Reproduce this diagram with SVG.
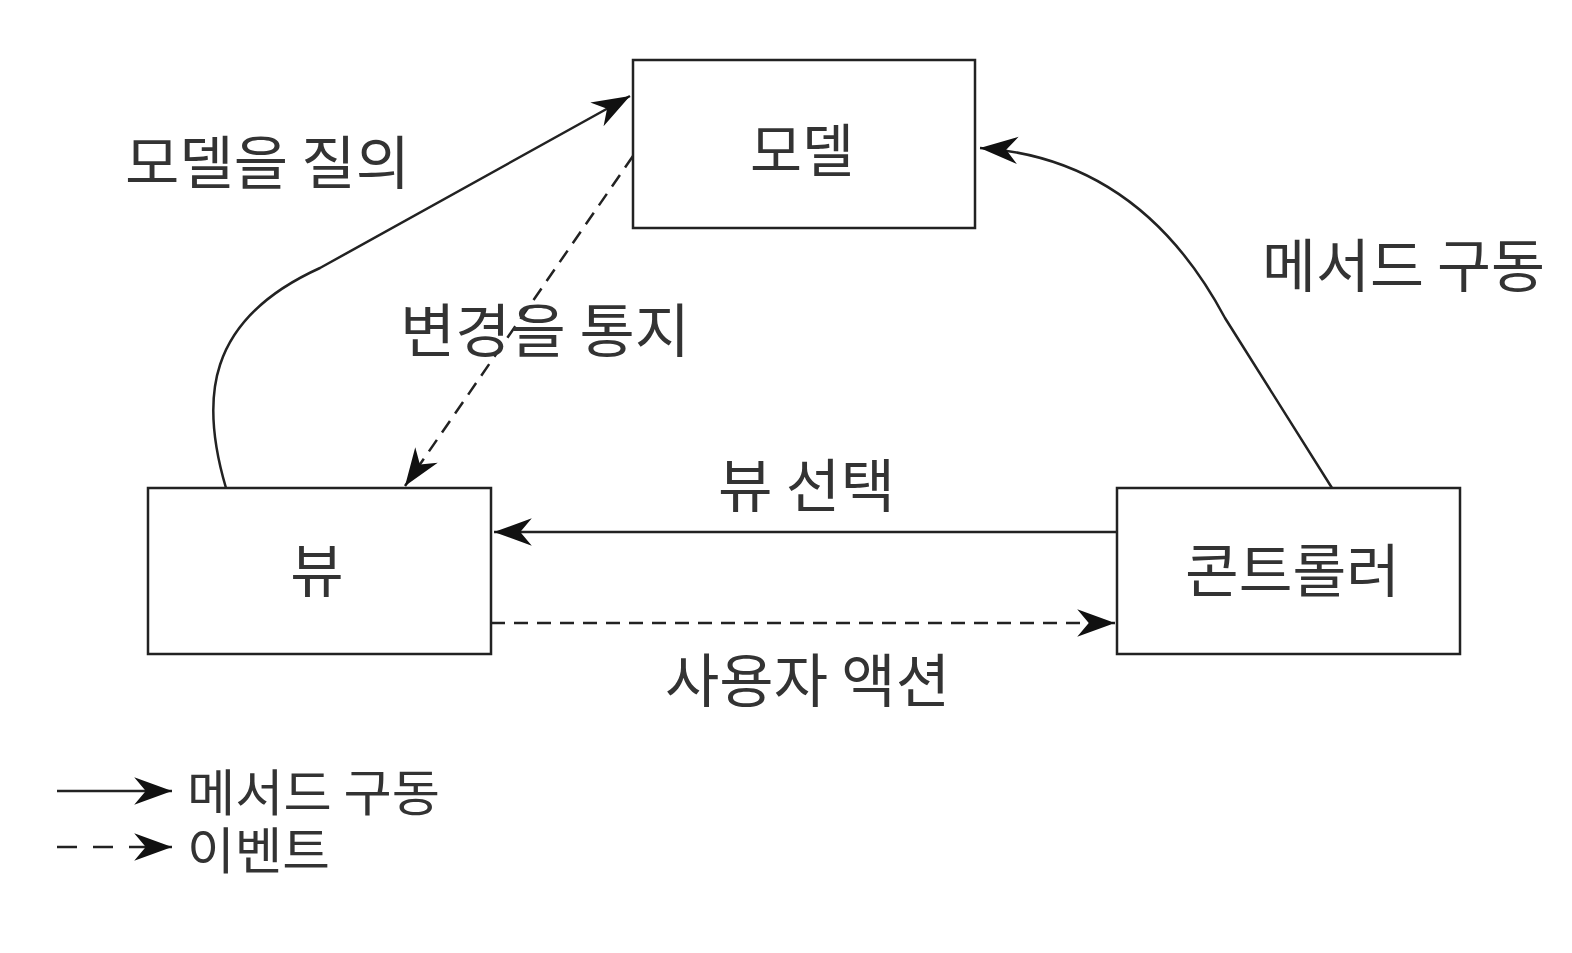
<svg xmlns="http://www.w3.org/2000/svg" width="1572" height="953" viewBox="0 0 1572 953">
<defs>
<style>
.box{fill:#fff;stroke:#222;stroke-width:2.5}
.t{font-family:"Noto Sans CJK KR","Noto Sans",sans-serif;font-size:58px;fill:#333}
.l{font-family:"Noto Sans CJK KR","Noto Sans",sans-serif;font-size:50px;fill:#333}
.c{fill:none;stroke:#222;stroke-width:2.5}
.d{stroke-dasharray:14,9}
</style>
<marker id="ah" markerUnits="userSpaceOnUse" markerWidth="42" markerHeight="32" viewBox="-38 -15 40 30" refX="0" refY="0" orient="auto">
<path d="M0,0 L-36,-13 L-25,0 L-36,13 Z" fill="#111"/>
</marker>
</defs>
<rect width="1572" height="953" fill="#fff"/>
<g id="model"><rect class="box" x="633" y="60" width="342" height="168"/><text class="t" x="750" y="172" textLength="104" lengthAdjust="spacingAndGlyphs">모델</text></g>
<g id="view"><rect class="box" x="148" y="488" width="343" height="166"/><text class="t" x="317" y="592" text-anchor="middle">뷰</text></g>
<g id="controller"><rect class="box" x="1117" y="488" width="343" height="166"/><text class="t" x="1185" y="592" textLength="215" lengthAdjust="spacingAndGlyphs">콘트롤러</text></g>
<g id="connectors">
<path class="c" d="M226,488 C200,400 205,320 320,268 L630,96" marker-end="url(#ah)"/>
<path class="c d" d="M633,156 L405,486" marker-end="url(#ah)"/>
<path class="c" d="M1332,488 L1225,318 C1170,215 1090,155 980,148" marker-end="url(#ah)"/>
<path class="c" d="M1117,532 L494,532" marker-end="url(#ah)"/>
<path class="c d" d="M491,623 L1115,623" marker-end="url(#ah)"/>
</g>
<g id="labels">
<text class="t" x="125" y="184" textLength="285" lengthAdjust="spacingAndGlyphs">모델을 질의</text>
<text class="t" x="400" y="352" textLength="290" lengthAdjust="spacingAndGlyphs">변경을 통지</text>
<text class="t" x="1262" y="287" textLength="283" lengthAdjust="spacingAndGlyphs">메서드 구동</text>
<text class="t" x="718" y="507" textLength="177" lengthAdjust="spacingAndGlyphs">뷰 선택</text>
<text class="t" x="665" y="702" textLength="285" lengthAdjust="spacingAndGlyphs">사용자 액션</text>
</g>
<g id="legend">
<path class="c" d="M57,791 L172,791" marker-end="url(#ah)"/>
<path class="c" d="M57,847 L172,847" stroke-dasharray="20,16" marker-end="url(#ah)"/>
<text class="l" x="187" y="811" textLength="253" lengthAdjust="spacingAndGlyphs">메서드 구동</text>
<text class="l" x="187" y="869" textLength="143" lengthAdjust="spacingAndGlyphs">이벤트</text>
</g>
</svg>
